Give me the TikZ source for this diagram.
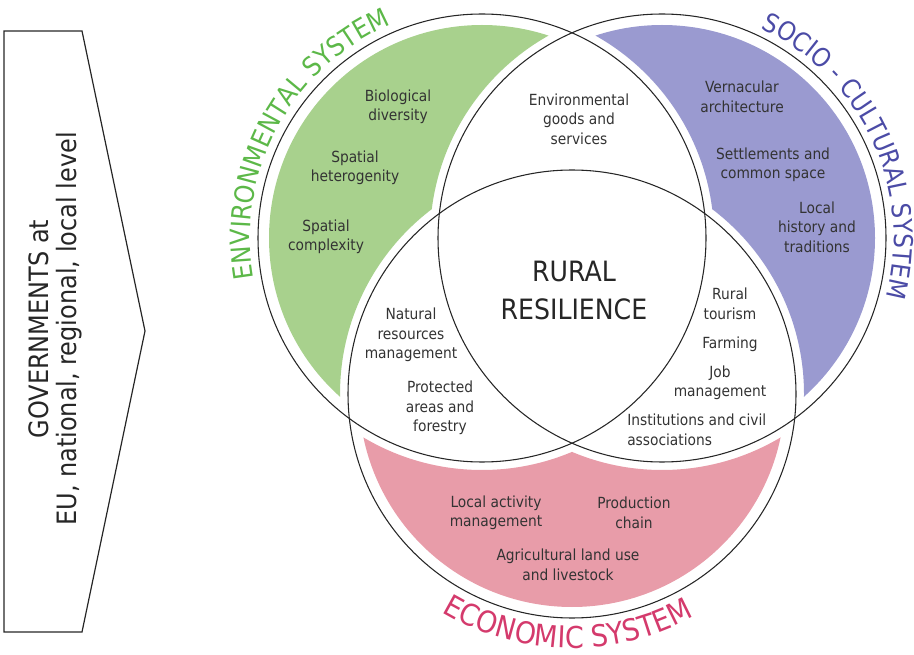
\documentclass[tikz,border=0pt]{standalone}
\usepackage{fontspec}
\setmainfont{DejaVu Sans Condensed}
\usepackage{tikz}
\usetikzlibrary{decorations.text}

\definecolor{envfill}{HTML}{A8D18D}
\definecolor{socfill}{HTML}{9A9AD0}
\definecolor{ecofill}{HTML}{E89CA9}
\definecolor{envtext}{HTML}{5CB848}
\definecolor{soctext}{HTML}{4B4BA6}
\definecolor{ecotext}{HTML}{D43A6C}
\definecolor{ink}{HTML}{333333}

\newcommand{\syslabel}[1]{\fontsize{#1}{#1}\selectfont}

\begin{document}
\begin{tikzpicture}[
  x=0.75pt, y=0.75pt,
  ring/.style={draw=black!85, line width=0.8pt},
  item/.style={font=\fontsize{11.5}{14.6}\selectfont, text=ink, align=center, inner sep=0pt},
  core/.style={font=\fontsize{21}{28.5}\selectfont, text=black!85, align=center, inner sep=0pt},
  sheet/.style={insert path={(0,0) -- (0,654) -- (914,654) -- (914,0) -- cycle}}
]
\useasboundingbox (0,0) rectangle (914,654);

%% circle centres
\coordinate (env) at (482,416);
\coordinate (soc) at (662,416);
\coordinate (eco) at (572,260);

%% coloured crescents
\begin{scope}[even odd rule]
  \clip[sheet] (soc) circle[radius=232];
  \clip[sheet] (eco) circle[radius=232];
  \fill[envfill] (env) circle[radius=213];
\end{scope}
\begin{scope}[even odd rule]
  \clip[sheet] (env) circle[radius=232];
  \clip[sheet] (eco) circle[radius=232];
  \fill[socfill] (soc) circle[radius=213];
\end{scope}
\begin{scope}[even odd rule]
  \clip[sheet] (env) circle[radius=232];
  \clip[sheet] (soc) circle[radius=232];
  \fill[ecofill] (eco) circle[radius=213];
\end{scope}

%% the three systems
\draw[ring] (env) circle[radius=224];
\draw[ring] (soc) circle[radius=224];
\draw[ring] (eco) circle[radius=224];

%% system names along the rims
\path[decorate, decoration={text along path, text align=center, text color=envtext,
      text={|\syslabel{20}|ENVIRONMENTAL SYSTEM}}]
  (env) ++(206:232) arc[start angle=206, end angle=97, radius=232];
\path[decorate, decoration={text along path, text align=center, text color=soctext,
      text={|\syslabel{19.5}|SOCIO - CULTURAL SYSTEM}}]
  (soc) ++(80:232) arc[start angle=80, end angle=-30, radius=232];
\path[decorate, decoration={text along path, text align=center, text color=ecotext,
      text={|\syslabel{22.5}|ECONOMIC SYSTEM}}]
  (eco) ++(214:254) arc[start angle=214, end angle=324, radius=254];

%% governments arrow
\draw[line width=0.9pt, draw=black!85] (4,623) -- (82,623) -- (145,323) -- (82,22) -- (4,22) -- cycle;
\node[rotate=90, align=center, font=\fontsize{20}{21}\selectfont, text=black!85] at (55,325) (gov)
  {GOVERNMENTS at\\EU, national, regional, local level};

%% environmental
\node[item] at (398,547) (bio) {Biological\\diversity};
\node[item] at (355,486) (het) {Spatial\\heterogenity};
\node[item] at (326,417) (cpx) {Spatial\\complexity};
\node[item] at (579,535) (goods) {Environmental\\goods and\\services};

%% socio-cultural
\node[item] at (742,557) (vern) {Vernacular\\architecture};
\node[item] at (773,489) (settle) {Settlements and\\common space};
\node[item] at (817,427) (hist) {Local\\history and\\traditions};

%% centre and overlaps
\node[core] at (574,364) (rr) {RURAL\\RESILIENCE};
\node[item] at (411,319) (natres) {Natural\\resources\\management};
\node[item] at (440,246) (prot) {Protected\\areas and\\forestry};
\node[item] at (730,350) (tour) {Rural\\tourism};
\node[item] at (730,310) (farm) {Farming};
\node[item] at (720,271) (job) {Job\\management};
\node[item, align=left, anchor=west] at (627,224) (inst) {Institutions and civil\\associations};

%% economic
\node[item] at (496,141) (lam) {Local activity\\management};
\node[item] at (634,141) (chain) {Production\\chain};
\node[item] at (568,89) (agri) {Agricultural land use\\and livestock};
\end{tikzpicture}
\end{document}
